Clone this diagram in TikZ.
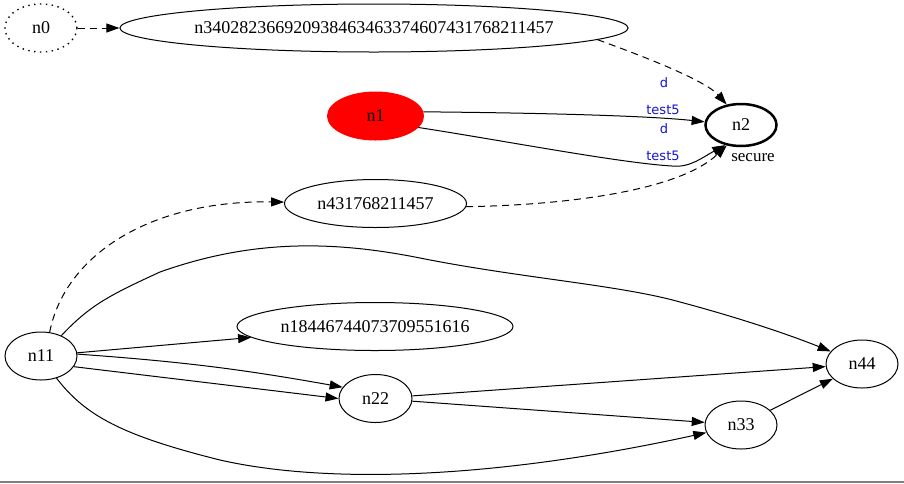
\documentclass[tikz,border=0pt]{standalone}
\usepackage{fontspec}
\setmainfont{Liberation Serif}
\newfontfamily\lblfont{DejaVu Sans}
\usetikzlibrary{shapes.geometric,arrows.meta}
\definecolor{lblblue}{RGB}{20,20,210}

\begin{document}
\begin{tikzpicture}[x=1pt,y=-1pt,
  >={Triangle[length=13pt,width=9pt]},
  gnode/.style={ellipse,draw,line width=1pt,inner sep=0pt,minimum width=72pt,minimum height=48pt,font=\fontsize{18}{20}\selectfont},
  elbl/.style={font=\lblfont\fontsize{13}{15}\selectfont,text=lblblue,inner sep=0pt},
  conn/.style={->,line width=1pt},
  dconn/.style={->,line width=1pt,dash pattern=on 7pt off 5pt}]
\useasboundingbox (0,0) rectangle (904,483);

\node[gnode,line width=1.4pt,dash pattern=on 1.4pt off 4.5pt] (n0) at (41,28) {n0};
\node[gnode,minimum width=498pt] (n340) at (374,28) {n340282366920938463463374607431768211457};
\node[gnode,minimum width=96pt,draw=red,fill=red] (n1) at (375.5,116) {n1};
\node[gnode,line width=2.5pt,minimum width=71pt,minimum height=42pt] (n2) at (741,125) {n2};
\node[font=\fontsize{17}{19}\selectfont,inner sep=0pt] (sec) at (753,158) {secure};
\node[gnode,minimum width=182pt] (n431) at (375.5,203.5) {n431768211457};
\node[gnode] (n11) at (41,356) {n11};
\node[gnode,minimum width=276pt] (n1844) at (375,326.5) {n18446744073709551616};
\node[gnode,minimum width=73pt] (n22) at (375.5,398.5) {n22};
\node[gnode] (n33) at (741,425) {n33};
\node[gnode] (n44) at (862,364) {n44};

\draw[dconn] (n0) -- (n340);
\draw[dconn] (n340.-3) .. controls (640,55) and (705,80) .. (n2.125);
\draw[conn] (n1.5) .. controls (550,113) and (650,116) .. (n2.175);
\draw[conn] (n1.-15) .. controls (500,140) and (620,163) .. (672,166)
  .. controls (690,168) and (703,157) .. (n2.-128);
\draw[dconn] (n431.-2) .. controls (570,205) and (680,190) .. (n2.-125);
\draw[dconn] (n11.70) .. controls (65,255) and (150,200) .. (n431);
\draw[conn] (n11.45) .. controls (90,305) and (110,295) .. (160,272)
  .. controls (250,240) and (330,240) .. (420,258)
  .. controls (520,278) and (620,285) .. (680,302)
  .. controls (740,318) and (790,335) .. (n44);
\draw[conn] (n11) -- (n1844);
\draw[conn] (n11.3) to[bend left=3] (n22.161);
\draw[conn] (n11.-18) -- (n22.180);
\draw[conn] (n11.-55) .. controls (85,415) and (120,435) .. (220,460)
  .. controls (330,485) and (500,478) .. (n33);
\draw[conn] (n22) -- (n44);
\draw[conn] (n22) -- (n33);
\draw[conn] (n33) -- (n44);

\node[elbl] (d1) at (664,83) {d};
\node[elbl] (t1) at (663,110) {test5};
\node[elbl] (d2) at (664,129) {d};
\node[elbl] (t2) at (663,156) {test5};

\draw[gray,line width=1.5pt] (0,482) -- (904,482);
\end{tikzpicture}
\end{document}
